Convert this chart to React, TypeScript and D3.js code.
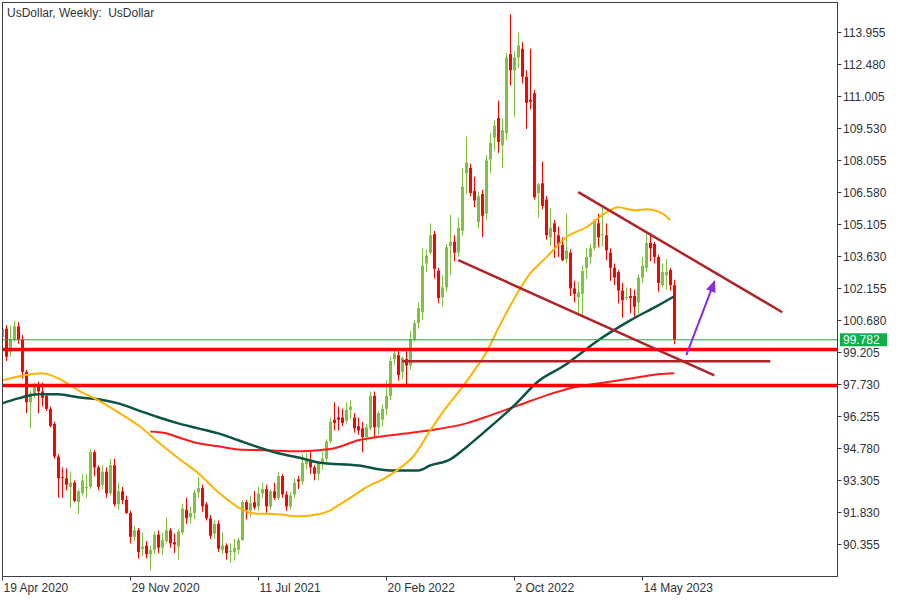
import React from 'react';
import * as d3 from 'd3';

// Weekly OHLC, week 0 = 19 Apr 2020
const opens = [
  99.9, 100.3, 99.2, 99.8, 100.4, 99.8, 98.3, 96.9, 97.3, 97.7,
  97.4, 97.2, 96.6, 95.9, 94.4, 93.45, 93.4, 93.0, 93.2, 92.3,
  92.7, 92.95, 93.0, 94.6, 93.9, 93.1, 93.7, 92.7, 94.0, 92.2,
  92.8, 92.4, 91.8, 90.7, 91.0, 90.15, 90.3, 89.9, 90.1, 90.8,
  90.2, 90.5, 91.0, 90.45, 90.25, 90.9, 91.95, 91.6, 91.8, 92.75,
  92.95, 92.2, 91.55, 90.85, 91.3, 90.1, 90.3, 90.0, 90.0, 90.1,
  90.55, 92.3, 91.9, 92.3, 92.1, 92.7, 92.9, 92.1, 92.8, 92.5,
  93.5, 92.65, 92.1, 92.65, 93.35, 93.25, 94.05, 94.25, 93.9, 93.6,
  94.1, 94.3, 95.1, 96.1, 96.2, 96.2, 96.05, 96.55, 96.2, 95.8,
  95.7, 95.3, 95.7, 97.2, 95.75, 96.1, 96.6, 97.2, 98.9, 99.07,
  98.3, 98.9, 98.6, 99.8, 100.55, 101.05, 103.3, 103.8, 104.65, 102.97,
  101.75, 102.2, 104.1, 104.3, 103.8, 104.8, 107.45, 107.7, 106.65, 105.2,
  106.5, 105.6, 108.1, 109.1, 110.0, 108.75, 109.3, 112.95, 112.2, 112.8,
  113.2, 111.9, 110.85, 111.15, 106.55, 107.0, 106.25, 104.5, 105.15, 104.6,
  104.15, 103.5, 103.8, 102.15, 101.75, 101.9, 103.1, 103.6, 104.0, 105.15,
  104.6, 104.6, 103.8, 103.1, 102.9, 102.05, 101.7, 101.8, 101.8, 101.5,
  102.65, 103.1, 104.25, 104.2, 103.6, 102.3, 102.75, 103.0, 102.3,
];
const highs = [
  100.5, 100.45, 100.45, 100.65, 100.6, 100.0, 98.4, 97.45, 97.8, 97.85,
  97.8, 97.3, 96.7, 96.0, 94.5, 93.9, 93.85, 93.7, 93.3, 92.9,
  93.6, 93.6, 94.75, 94.7, 94.0, 94.0, 93.9, 94.3, 94.3, 93.2,
  93.0, 92.6, 91.9, 91.2, 91.1, 90.9, 90.5, 90.3, 90.95, 91.0,
  90.9, 91.6, 91.1, 90.85, 91.05, 92.2, 92.5, 92.1, 92.85, 93.45,
  93.1, 92.3, 91.7, 91.45, 91.45, 90.9, 90.4, 90.4, 90.6, 90.65,
  92.4, 92.4, 92.6, 92.8, 93.0, 93.2, 93.1, 92.9, 93.2, 93.7,
  93.6, 92.8, 92.75, 93.4, 93.5, 94.5, 94.55, 94.6, 94.0, 94.2,
  94.6, 95.2, 96.2, 96.9, 96.7, 96.6, 96.9, 97.0, 96.4, 96.2,
  96.0, 95.9, 97.4, 97.4, 96.5, 96.8, 97.9, 99.0, 99.4, 99.3,
  99.0, 99.3, 100.2, 100.7, 101.5, 104.0, 103.95, 105.15, 104.8, 103.1,
  102.75, 104.2, 105.55, 104.6, 105.4, 107.7, 109.15, 107.9, 107.3, 106.6,
  106.7, 108.3, 109.3, 109.9, 110.8, 110.0, 113.0, 114.78, 113.1, 113.95,
  113.5, 112.2, 113.2, 111.3, 107.0, 108.0, 106.4, 105.85, 105.3, 105.0,
  104.5, 105.6, 103.95, 102.5, 102.45, 103.2, 104.0, 104.2, 105.35, 105.6,
  105.9, 105.15, 104.0, 103.3, 103.0, 102.4, 102.2, 102.15, 102.1, 102.8,
  103.6, 104.7, 104.7, 104.3, 103.7, 103.3, 103.5, 103.1, 102.55,
];
const lows = [
  99.7, 98.8, 99.0, 99.7, 99.6, 98.0, 96.4, 95.7, 97.1, 96.4,
  96.7, 96.5, 95.75, 94.3, 92.5, 92.5, 92.85, 92.05, 92.3, 91.75,
  92.6, 92.5, 92.9, 93.5, 92.85, 92.9, 92.5, 92.6, 92.1, 91.95,
  92.2, 91.75, 90.4, 90.5, 89.7, 89.8, 89.7, 89.15, 89.9, 89.95,
  89.85, 90.4, 90.2, 89.95, 89.65, 90.8, 91.3, 91.3, 91.5, 92.5,
  91.85, 91.45, 90.6, 90.6, 90.0, 89.9, 89.65, 89.5, 89.6, 89.9,
  90.5, 91.5, 91.6, 91.95, 91.9, 92.5, 91.8, 91.95, 92.4, 92.4,
  92.5, 91.9, 91.95, 92.5, 92.9, 93.1, 93.8, 93.6, 93.3, 93.3,
  93.8, 94.0, 95.0, 95.6, 95.6, 95.8, 95.9, 96.1, 95.5, 95.4,
  94.6, 95.1, 95.6, 95.3, 95.4, 95.8, 96.3, 97.0, 98.6, 97.9,
  97.95, 97.7, 98.4, 99.7, 100.3, 100.7, 102.9, 103.7, 102.6, 101.47,
  101.3, 102.0, 102.75, 103.4, 103.6, 104.6, 106.5, 106.4, 105.9, 104.9,
  104.5, 105.3, 107.45, 108.5, 108.4, 107.7, 109.0, 111.5, 110.05, 112.3,
  111.6, 109.5, 110.4, 106.25, 105.4, 105.8, 104.4, 104.1, 103.55, 103.6,
  103.4, 103.3, 101.8, 101.5, 101.0, 100.8, 102.6, 103.3, 103.9, 104.05,
  104.1, 103.45, 102.5, 102.3, 101.45, 100.8, 101.6, 101.0, 100.8, 101.0,
  102.4, 102.9, 103.4, 103.3, 102.0, 102.2, 102.1, 102.05, 99.57,
];
const closes = [
  100.3, 99.0, 99.8, 100.4, 99.8, 98.3, 96.9, 97.3, 97.7, 97.4,
  97.1, 96.6, 95.8, 94.4, 93.4, 93.4, 93.1, 93.2, 92.35, 92.8,
  93.3, 93.0, 94.6, 93.9, 93.0, 93.7, 92.7, 94.0, 92.2, 92.8,
  92.4, 91.8, 90.7, 91.0, 90.0, 90.25, 89.9, 90.1, 90.8, 90.2,
  90.55, 91.0, 90.4, 90.35, 90.95, 92.0, 91.55, 91.8, 92.75, 92.95,
  92.1, 91.55, 90.75, 91.3, 90.15, 90.3, 89.95, 90.05, 90.2, 90.55,
  92.3, 91.95, 92.25, 92.05, 92.7, 92.9, 92.1, 92.8, 92.5, 93.5,
  92.65, 92.1, 92.6, 93.2, 93.25, 94.1, 94.2, 93.9, 93.6, 94.1,
  94.3, 95.1, 96.0, 95.95, 96.1, 95.95, 96.55, 96.7, 95.7, 95.6,
  95.3, 95.75, 97.2, 95.75, 96.4, 96.6, 97.2, 98.8, 99.15, 98.15,
  98.95, 98.6, 99.8, 100.55, 101.25, 103.2, 103.65, 104.6, 103.05, 101.7,
  102.2, 104.05, 104.3, 103.8, 104.95, 106.85, 107.95, 106.55, 106.2, 106.4,
  105.5, 108.05, 108.85, 109.65, 108.9, 109.45, 112.8, 112.2, 112.8, 113.35,
  111.9, 110.7, 110.75, 106.35, 106.95, 105.95, 104.6, 104.95, 104.75, 104.15,
  103.45, 103.9, 102.15, 101.9, 101.97, 102.95, 103.6, 104.0, 105.3, 104.5,
  104.65, 103.9, 103.1, 102.65, 102.05, 101.6, 101.75, 101.7, 101.3, 102.65,
  103.2, 104.25, 104.0, 103.6, 102.4, 102.9, 102.9, 102.3, 99.78,
];

const fastMaWeeks = [0, 10, 14, 19, 24, 29, 34, 39, 44, 49, 54, 59, 63, 69, 74, 79, 82, 84, 86, 91, 96, 99, 103, 107, 111, 115, 118, 121, 124, 128, 132, 136, 141, 146, 151, 154, 158, 161, 165, 167];
const fastMaValues = [97.91, 98.24, 98.0, 97.45, 96.99, 96.44, 95.84, 95.06, 94.32, 93.63, 92.75, 92.06, 91.78, 91.74, 91.65, 91.74, 91.92, 92.15, 92.38, 92.98, 93.44, 93.81, 94.46, 95.61, 96.67, 97.59, 98.37, 99.2, 100.31, 101.69, 102.84, 103.58, 104.51, 104.97, 105.66, 105.89, 105.75, 105.8, 105.61, 105.29];
const midMaWeeks = [0, 4, 9, 14, 19, 24, 29, 34, 39, 44, 49, 54, 59, 64, 69, 74, 79, 89, 97, 104, 107, 112, 116, 121, 128, 134, 141, 144, 149, 157, 164, 168];
const midMaValues = [96.85, 97.08, 97.27, 97.27, 97.13, 97.04, 96.85, 96.53, 96.21, 95.93, 95.7, 95.47, 95.15, 94.83, 94.55, 94.36, 94.13, 93.99, 93.76, 93.76, 93.99, 94.27, 94.83, 95.61, 96.76, 97.87, 98.65, 99.07, 99.76, 100.68, 101.37, 101.79];
const slowMaWeeks = [37, 41, 44, 49, 54, 59, 66, 74, 79, 83, 89, 97, 107, 116, 122, 129, 136, 143, 151, 159, 164, 168];
const slowMaValues = [95.56, 95.47, 95.29, 95.01, 94.87, 94.73, 94.69, 94.64, 94.69, 94.78, 95.15, 95.38, 95.61, 95.93, 96.3, 96.76, 97.22, 97.59, 97.82, 98.05, 98.19, 98.24];

const priceTicks = [113.955, 112.48, 111.005, 109.53, 108.055, 106.58, 105.105, 103.63, 102.155, 100.68, 99.205, 97.73, 96.255, 94.78, 93.305, 91.83, 90.355];
const priceTickLabels = ['113.955', '112.480', '111.005', '109.530', '108.055', '106.580', '105.105', '103.630', '102.155', '100.680', '99.205', '97.730', '96.255', '94.780', '93.305', '91.830', '90.355'];
const dateTickWeeks = [0, 32, 64, 96, 128, 160];
const dateTickLabels = ['19 Apr 2020', '29 Nov 2020', '11 Jul 2021', '20 Feb 2022', '2 Oct 2022', '14 May 2023'];

const supportLevels = [99.33, 97.67];
const lastPrice = 99.782;
const lastPriceLabel = '99.782';
const zoneLineWeeks = [100, 192];
const zoneLineValue = 98.79;
const channelUpperWeeks = [144, 195];
const channelUpperValues = [106.59, 101.05];
const channelLowerWeeks = [114, 178];
const channelLowerValues = [103.45, 98.14];
const arrowWeeks = [171, 178];
const arrowValues = [99.07, 102.45];

const FONT = '"Liberation Sans", Arial, sans-serif';

export default function App() {
  const W = 900, H = 600;
  const left = 2.5, top = 2.5, right = 837.5, bottom = 576.5;
  const x = d3.scaleLinear().domain([0, 168]).range([2.3, 674.3]);
  const y = d3.scaleLinear().domain([90.355, 113.955]).range([544.3, 32.3]);

  const line = d3.line<[number, number]>().x(d => x(d[0])).y(d => y(d[1])).curve(d3.curveMonotoneX);
  const fast = line(fastMaWeeks.map((w, i) => [w, fastMaValues[i]] as [number, number])) || '';
  const mid = line(midMaWeeks.map((w, i) => [w, midMaValues[i]] as [number, number])) || '';
  const slow = line(slowMaWeeks.map((w, i) => [w, slowMaValues[i]] as [number, number])) || '';

  const bull = '#7fc242';
  const bear = '#ff0000';
  const brick = '#b02326';
  const axisColor = '#3b3e48';
  const textColor = '#2f323a';

  return (
    <svg width={W} height={H} style={{ position: 'absolute', left: 0, top: 0, background: '#fff' }}>
      <defs>
        <clipPath id="plot">
          <rect x={left} y={top} width={right - left} height={bottom - top} />
        </clipPath>
        <marker id="arrowHead" markerUnits="userSpaceOnUse" markerWidth="12" markerHeight="10" refX="10" refY="5" orient="auto">
          <path d="M0,0 L12,5 L0,10 z" fill="#8a2be2" />
        </marker>
      </defs>
      <rect x={0} y={0} width={W} height={H} fill="#fff" />

      <g clipPath="url(#plot)">
        {opens.map((o, i) => {
          const c = closes[i];
          const cx = Math.round(x(i));
          const up = c >= o;
          const col = up ? bull : bear;
          const yTop = y(Math.max(o, c));
          const yBot = y(Math.min(o, c));
          const h = Math.max(1, yBot - yTop);
          return (
            <g key={i}>
              <line x1={cx + 0.5} x2={cx + 0.5} y1={y(highs[i])} y2={y(lows[i])} stroke={col} strokeWidth={1} />
              <rect x={cx - 1} y={yTop} width={3} height={h} fill={col} />
            </g>
          );
        })}

        <path d={slow} fill="none" stroke="#ff1a1a" strokeWidth={2} />
        <path d={mid} fill="none" stroke="#0c5245" strokeWidth={2.5} />
        <path d={fast} fill="none" stroke="#ffb200" strokeWidth={2} />

        <line x1={left} x2={right} y1={y(lastPrice)} y2={y(lastPrice)} stroke="#21a846" strokeWidth={1} />
        {supportLevels.map((v, i) => (
          <line key={i} x1={left} x2={right} y1={y(v)} y2={y(v)} stroke="#ff0000" strokeWidth={3.5} />
        ))}
        <line x1={x(zoneLineWeeks[0])} x2={x(zoneLineWeeks[1])} y1={y(zoneLineValue)} y2={y(zoneLineValue)} stroke={brick} strokeWidth={2.5} />
        <line x1={x(channelUpperWeeks[0])} y1={y(channelUpperValues[0])} x2={x(channelUpperWeeks[1])} y2={y(channelUpperValues[1])} stroke={brick} strokeWidth={2.5} />
        <line x1={x(channelLowerWeeks[0])} y1={y(channelLowerValues[0])} x2={x(channelLowerWeeks[1])} y2={y(channelLowerValues[1])} stroke={brick} strokeWidth={2.5} />
        <line x1={x(arrowWeeks[0])} y1={y(arrowValues[0])} x2={x(arrowWeeks[1])} y2={y(arrowValues[1])} stroke="#8a2be2" strokeWidth={2} markerEnd="url(#arrowHead)" />
      </g>

      <rect x={left} y={top} width={right - left} height={bottom - top} fill="none" stroke={axisColor} strokeWidth={1} />

      {priceTicks.map((v, i) => {
        const yy = Math.round(y(v)) + 0.5;
        return (
          <g key={i}>
            <line x1={right} x2={right + 4} y1={yy} y2={yy} stroke={axisColor} strokeWidth={1} />
            <text x={843} y={yy} dy="0.35em" fontFamily={FONT} fontSize={12} fill={textColor}>{priceTickLabels[i]}</text>
          </g>
        );
      })}

      <rect x={840} y={y(lastPrice) - 6.5} width={47} height={13} fill="#0fb04a" />
      <text x={843} y={y(lastPrice)} dy="0.36em" fontFamily={FONT} fontSize={12} fill="#ffffff">{lastPriceLabel}</text>

      {dateTickWeeks.map((w, i) => {
        const xx = Math.round(x(w)) + 0.5;
        return (
          <g key={i}>
            <line x1={xx} x2={xx} y1={bottom} y2={bottom + 4} stroke={axisColor} strokeWidth={1} />
            <text x={xx + 1} y={592} fontFamily={FONT} fontSize={12} fill={textColor}>{dateTickLabels[i]}</text>
          </g>
        );
      })}

      <text x={7} y={16.5} fontFamily={FONT} fontSize={12} fill={textColor} style={{ whiteSpace: 'pre' }}>{'UsDollar, Weekly:  UsDollar'}</text>
    </svg>
  );
}
